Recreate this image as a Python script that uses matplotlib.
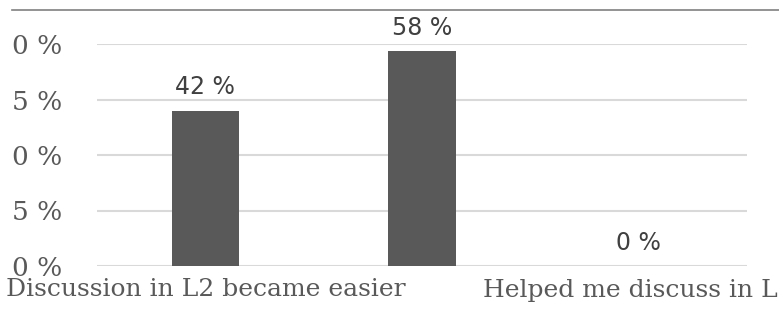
import matplotlib.pyplot as plt
from matplotlib.lines import Line2D

# Data
categories = ["Discussion in L2 became easier", "", "Helped me discuss in L2"]
values = [42, 58, 0]
y_ticks = [0, 15, 30, 45, 60]
y_tick_labels = ["0 %", "5 %", "0 %", "5 %", "0 %"]  # left digits cropped in the source

W, H = 779, 310
fig = plt.figure(figsize=(W / 100, H / 100), dpi=100)
ax = fig.add_axes([97 / W, 44 / H, 650 / W, 222 / H])

x = range(len(values))
ax.bar(x, values, width=0.31, color='#595959', zorder=3)

for i, v in enumerate(values):
    ax.annotate(f"{v} %", (i, v), xytext=(0, 8), textcoords='offset points',
                ha='center', va='bottom', fontsize=17, color='#404040',
                family='DejaVu Sans')

ax.set_xlim(-0.5, 2.5)
ax.set_ylim(0, 60)
ax.set_yticks(y_ticks)
ax.set_yticklabels(y_tick_labels, family='DejaVu Serif', fontsize=19, color='#595959')
ax.set_xticks(list(x))
ax.set_xticklabels(categories, family='DejaVu Serif', fontsize=18, color='#595959')
ax.tick_params(length=0)
ax.tick_params(axis='y', pad=25)
ax.tick_params(axis='x', pad=9)
ax.grid(axis='y', color='#d9d9d9', linewidth=1.5, zorder=0)
for s in ax.spines.values():
    s.set_visible(False)

# thin border line at top of the crop
fig.add_artist(Line2D([12 / W, 1], [1 - 10 / H, 1 - 10 / H], color='#808080', linewidth=1.2))

fig.savefig("out.png", dpi=100)
